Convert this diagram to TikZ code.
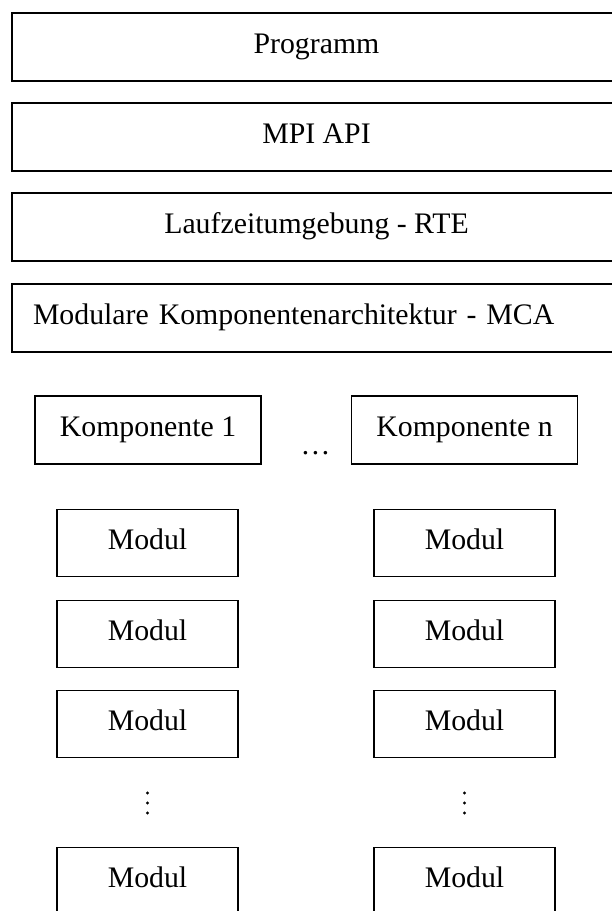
\documentclass[tikz,border=0pt]{standalone}
\usepackage{fontspec}
\setmainfont{Liberation Serif}

\tikzset{
	schicht/.style={draw, line width=1.3pt, minimum width=609pt, minimum height=68pt, inner sep=0pt, text height=20pt, text depth=7pt},
	baustein/.style={draw, line width=1.3pt, minimum height=68pt, inner sep=0pt, text height=20pt, text depth=7pt},
}

\begin{document}
\begin{tikzpicture}[x=1pt, y=-1pt, font=\fontsize{29.8}{35}\selectfont]
		%%%%% START %%%%%
		\useasboundingbox (0, 0) rectangle (612, 911);
		
		\node[schicht] (programm) at (316.5, 47) {Programm};
		\node[schicht] (mpi) at (316.5, 137) {MPI API};
		\node[schicht] (rte) at (316.5, 227) {Laufzeitumgebung - RTE};
		\node[schicht, text width=567pt, inner xsep=21pt, align=left] (mca) at (316.5, 318) {Modulare Komponentenarchitektur - MCA};
		
		\node[baustein, minimum width=226pt] (komp1) at (148, 430) {Komponente 1};
		\node[baustein, minimum width=226pt] (kompn) at (464.5, 430) {Komponente n};
		\node (kdots) at (315.5, 453) {…};
		
		\foreach \y/\n in {543/1, 634/2, 724/3, 881/4} {
			\node[baustein, minimum width=181pt, minimum height=67pt] (modul-a\n) at (147.5, \y) {Modul};
			\node[baustein, minimum width=181pt, minimum height=67pt] (modul-b\n) at (464.5, \y) {Modul};
		}
		
		\foreach \x in {147.5, 464.5} {
			\foreach \y in {793, 803, 813} {
				\fill (\x, \y) circle (1.6);
			}
		}
		
		%%%%% END %%%%%
	\end{tikzpicture}
\end{document}
